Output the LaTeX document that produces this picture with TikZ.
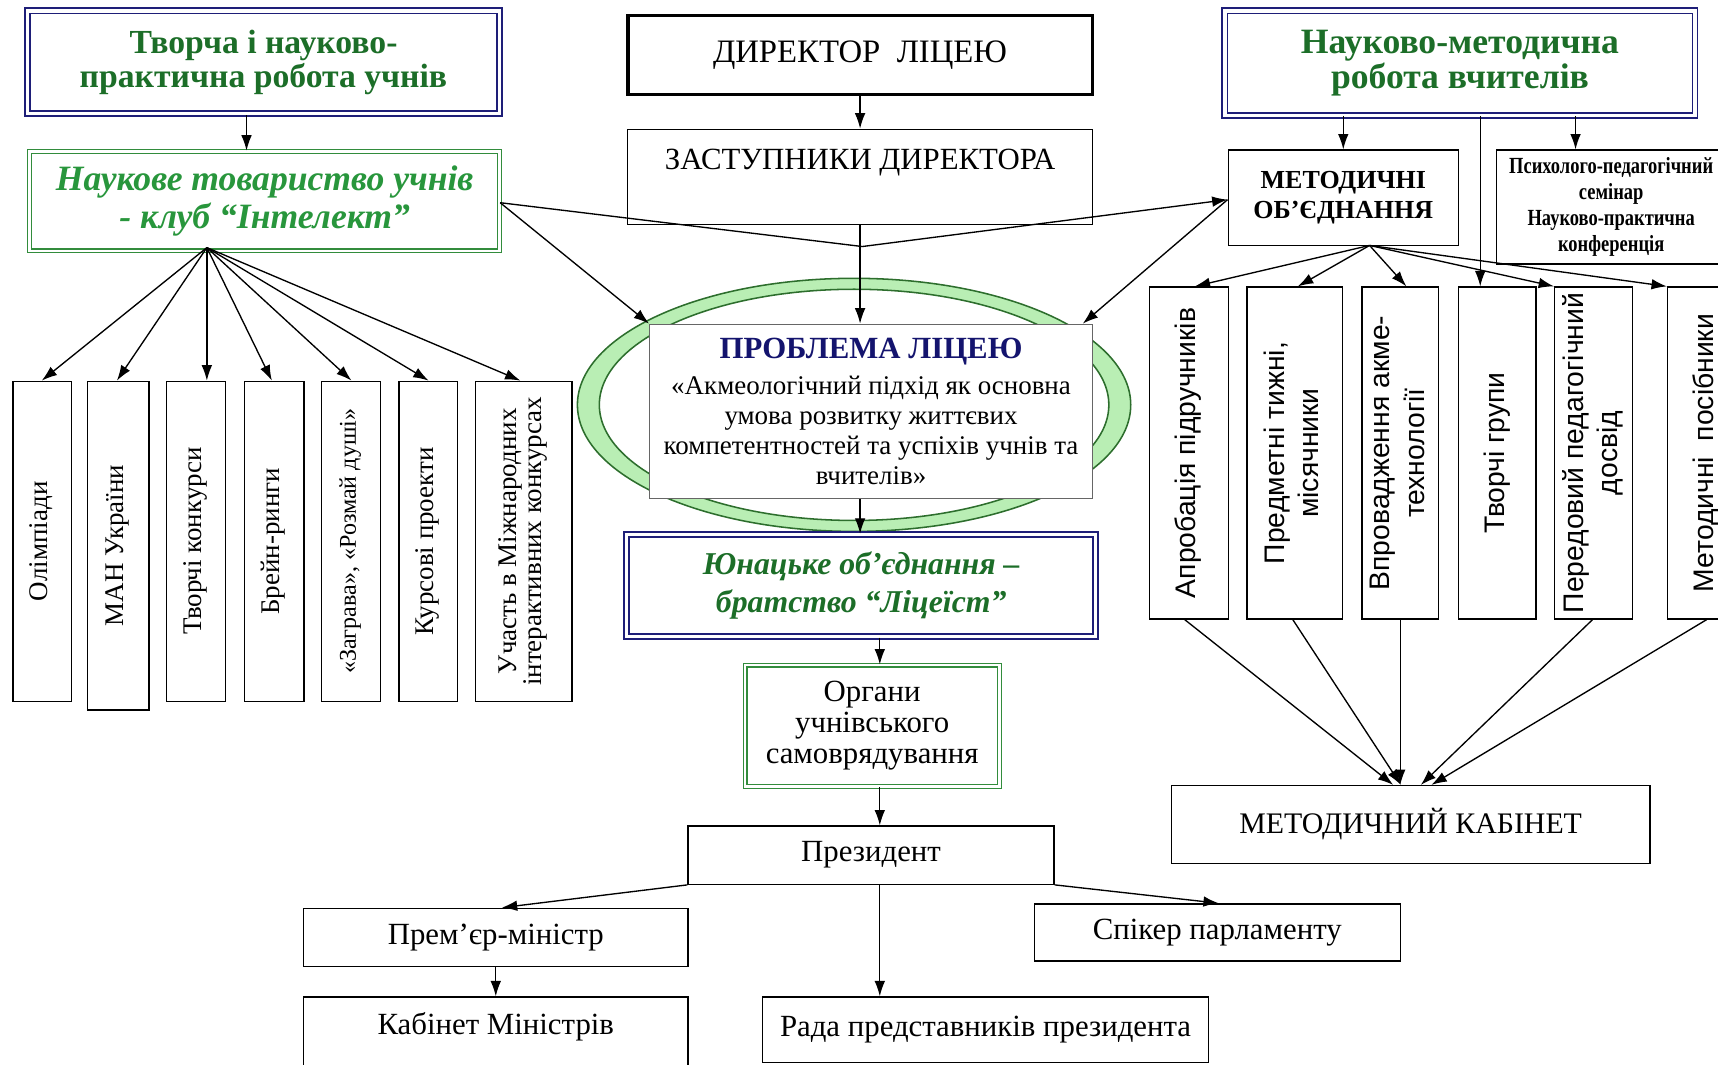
\documentclass[tikz,border=0pt]{standalone}
\usepackage{fontspec}
\setmainfont{Liberation Serif}
\newfontfamily\arialf{Liberation Sans}
\newfontfamily\narrowf[FakeStretch=0.8]{Liberation Serif}
\usepackage{graphicx}
\usetikzlibrary{arrows.meta}
\definecolor{navyline}{RGB}{30,30,120}
\definecolor{darkgreen}{RGB}{28,110,40}
\definecolor{brightgreen}{RGB}{40,150,60}
\definecolor{greenline}{RGB}{50,140,60}
\definecolor{ringfill}{RGB}{185,238,180}
\definecolor{ringline}{RGB}{45,110,45}
\definecolor{titlenavy}{RGB}{20,20,110}
\newcommand{\vtext}[1]{\rotatebox{90}{\begin{tabular}{@{}c@{}}#1\end{tabular}}}

\begin{document}
\begin{tikzpicture}[scale=0.2]
\tikzstyle{every node}+=[inner sep=0pt]
\tikzstyle{plain}=[draw, line width=0.7pt, fill=white, align=center, font=\fontsize{16}{18.5}\selectfont]
\tikzstyle{navybox}=[draw=navyline, line width=1pt, double=white, double distance=1.6pt, fill=white, align=center]
\tikzstyle{greenbox}=[draw=greenline, line width=0.6pt, double=white, double distance=1.4pt, fill=white, align=center]
\tikzstyle{vbox}=[draw, line width=0.7pt, fill=white, minimum height=5.84cm, font=\fontsize{14}{13}\selectfont]
\tikzstyle{rbox}=[draw, line width=0.7pt, fill=white, minimum height=6.06cm, font=\arialf\fontsize{14.7}{18}\selectfont]
\tikzstyle{arr}=[-{Latex[length=8pt,width=5.5pt]}, line width=0.7pt]
\useasboundingbox (0,0) rectangle (156.8,-97.2);
\node[navybox, minimum width=8.62cm, minimum height=1.88cm, text=darkgreen, font=\bfseries\fontsize{17.5}{17.5}\selectfont] (tvorcha) at (24.05,-5.7) {Творча і науково-\\практична робота учнів};
\node[greenbox, minimum width=8.58cm, minimum height=1.82cm, text=brightgreen, font=\bfseries\itshape\fontsize{18.5}{20}\selectfont] (intelekt) at (24.15,-18.35) {Наукове товариство учнів\\- клуб “Інтелект”};
\node[vbox, minimum width=1.07cm] (olimp) at (3.87,-49.4) {\vtext{Олімпіади}};
\node[vbox, minimum width=1.12cm, minimum height=6.0cm] (man) at (10.8,-49.8) {\vtext{МАН України}};
\node[vbox, minimum width=1.08cm] (tvkon) at (17.9,-49.4) {\vtext{Творчі конкурси}};
\node[vbox, minimum width=1.08cm] (brein) at (25.04,-49.4) {\vtext{Брейн-ринги}};
\node[vbox, minimum width=1.08cm, font=\fontsize{12.5}{13}\selectfont] (zagrava) at (32.02,-49.4) {\vtext{«Заграва», «Розмай душі»}};
\node[vbox, minimum width=1.06cm] (kurs) at (39.08,-49.4) {\vtext{Курсові проекти}};
\node[vbox, minimum width=1.76cm] (uchast) at (47.8,-49.4) {\vtext{Участь в Міжнародних\\інтерактивних конкурсах}};
\node[plain, line width=1.8pt, minimum width=8.48cm, minimum height=1.44cm, font=\fontsize{17}{18}\selectfont] (director) at (78.5,-5.0) {ДИРЕКТОР~ ЛІЦЕЮ};
\node[plain, minimum width=8.48cm, minimum height=1.74cm] (zast) at (78.5,-16.15) {ЗАСТУПНИКИ ДИРЕКТОРА\\~};
\fill[ringfill, even odd rule] (77.95,-36.95) ellipse [x radius=25.25, y radius=11.55] (77.95,-36.95) ellipse [x radius=23.25, y radius=10.55];
\draw[ringline, line width=0.8pt] (77.95,-36.95) ellipse [x radius=25.25, y radius=11.55];
\draw[ringline, line width=0.8pt] (77.95,-36.95) ellipse [x radius=23.25, y radius=10.55];
\node[draw=black!60, line width=0.7pt, fill=white, minimum width=8.08cm, minimum height=3.18cm, align=center, font=\fontsize{14}{15.5}\selectfont] (problem) at (79.5,-37.55) {{\color{titlenavy}\bfseries\fontsize{16}{17}\selectfont ПРОБЛЕМА ЛІЦЕЮ}\\[3pt]«Акмеологічний підхід як основна\\умова розвитку життєвих\\компетентностей та успіхів учнів та\\вчителів»};
\node[navybox, minimum width=8.56cm, minimum height=1.86cm, text=darkgreen, font=\bfseries\itshape\fontsize{16.5}{19.5}\selectfont] (junatske) at (78.6,-53.45) {Юнацьке об’єднання –\\братство “Ліцеїст”};
\node[greenbox, minimum width=4.64cm, minimum height=2.22cm, font=\fontsize{16}{16}\selectfont] (organy) at (79.6,-66.25) {Органи\\учнівського\\самоврядування};
\node[plain, minimum width=6.68cm, minimum height=1.06cm] (prezydent) at (79.5,-78.05) {Президент};
\node[plain, minimum width=7.02cm, minimum height=1.06cm] (premier) at (45.25,-85.55) {Прем’єр-міністр};
\node[plain, minimum width=7.02cm, minimum height=1.6cm] (kabmin) at (45.25,-95.0) {Кабінет Міністрів\\~};
\node[plain, minimum width=8.14cm, minimum height=1.2cm] (rada) at (89.95,-94.0) {Рада представників президента};
\node[plain, minimum width=6.68cm, minimum height=1.04cm] (spiker) at (111.1,-85.1) {Спікер парламенту};
\node[navybox, minimum width=8.58cm, minimum height=1.9cm, text=darkgreen, font=\bfseries\fontsize{18.5}{18}\selectfont] (naukmet) at (133.25,-5.75) {Науково-методична\\робота вчителів};
\node[plain, minimum width=4.2cm, minimum height=1.74cm, font=\bfseries\fontsize{13.5}{15.5}\selectfont] (metob) at (122.6,-18.05) {МЕТОДИЧНІ\\ОБ’ЄДНАННЯ};
\node[plain, minimum width=4.18cm, minimum height=2.08cm, font=\narrowf\bfseries\fontsize{12}{13.5}\selectfont] (psych) at (147.05,-18.9) {Психолого-педагогічний\\семінар\\Науково-практична\\конференція};
\node[rbox, minimum width=1.44cm] (aprob) at (108.5,-41.35) {\vtext{Апробація підручників}};
\node[rbox, minimum width=1.74cm] (predm) at (118.15,-41.35) {\vtext{Предметні тижні,\\місячники}};
\node[rbox, minimum width=1.4cm] (vprov) at (127.8,-41.35) {\vtext{Впровадження акме-\\технології}};
\node[rbox, minimum width=1.42cm] (tvgr) at (136.65,-41.35) {\vtext{Творчі групи}};
\node[rbox, minimum width=1.42cm] (peredov) at (145.45,-41.35) {\vtext{Передовий педагогічний\\досвід}};
\node[rbox, minimum width=1.42cm] (posib) at (155.75,-41.35) {\vtext{Методичні~ посібники}};
\node[plain, minimum width=8.74cm, minimum height=1.42cm, font=\fontsize{15.5}{18}\selectfont] (metkab) at (128.75,-75.25) {МЕТОДИЧНИЙ КАБІНЕТ};
\coordinate (colL) at (22.5,0);
\coordinate (colC) at (80.3,0);
\coordinate (colR1) at (143.8,0);
\coordinate (colR2) at (135.1,0);
\coordinate (fanL) at (18.88,-22.6);
\coordinate (fanR) at (125.0,-22.4);
\coordinate (vpt) at (78.7,-22.5);
\draw[arr] (tvorcha.south -| colL) -- (intelekt.north -| colL);
\draw[arr] (fanL) -- ([xshift=-0.06cm]olimp.north);
\draw[arr] (fanL) -- ([xshift=-0.13cm]man.north);
\draw[arr] (fanL) -- (tvkon.north -| fanL);
\draw[arr] (fanL) -- ([xshift=-0.23cm]brein.north);
\draw[arr] (fanL) -- ([xshift=0.06cm]zagrava.north);
\draw[arr] (fanL) -- ([xshift=0.04cm]kurs.north);
\draw[arr] (fanL) -- ([xshift=-0.3cm]uchast.north);
\draw[arr] (director.south) -- (zast.north);
\draw[arr] (zast.south) -- (zast.south |- problem.north);
\draw[arr] ([yshift=-0.15cm]intelekt.east) -- (vpt) -- ([yshift=-0.17cm]metob.west);
\draw[arr] ([yshift=-0.15cm]intelekt.east) -- (problem.north west);
\draw[arr] ([yshift=-0.17cm]metob.west) -- ([xshift=-0.94cm]problem.north east);
\draw[arr] (problem.south -| zast.south) -- (junatske.north -| zast.south);
\draw[arr] (junatske.south -| colC) -- (organy.north -| colC);
\draw[arr] (organy.south -| colC) -- (prezydent.north -| colC);
\draw[arr] (prezydent.south -| colC) -- (rada.north -| colC);
\draw[arr] (prezydent.south west) -- ([xshift=0.55cm]premier.north);
\draw[arr] (premier.south) -- (kabmin.north);
\draw[arr] (prezydent.south east) -- ([xshift=0.14cm]spiker.north);
\draw[arr] (naukmet.south -| metob.north) -- (metob.north);
\draw[arr] (naukmet.south -| colR1) -- (psych.north -| colR1);
\draw[arr] (naukmet.south -| colR2) -- (tvgr.north -| colR2);
\draw[arr] (fanR) -- ([xshift=0.54cm]aprob.north);
\draw[arr] (fanR) -- ([xshift=0.31cm]predm.north);
\draw[arr] (fanR) -- ([xshift=0.56cm]vprov.north);
\draw[arr] (fanR) -- (peredov.north west);
\draw[arr] (fanR) -- (posib.north west);
\draw[arr] ([xshift=-0.36cm]aprob.south) -- ([xshift=-1.59cm]metkab.north);
\draw[arr] ([xshift=-0.15cm]predm.south) -- ([xshift=-0.89cm]metkab.north);
\draw[arr] (vprov.south) -- (vprov.south |- metkab.north);
\draw[arr] ([xshift=-0.11cm]peredov.south) -- ([xshift=0.93cm]metkab.north);
\draw[arr] (posib.south) -- ([xshift=1.89cm]metkab.north);
\end{tikzpicture}
\end{document}
